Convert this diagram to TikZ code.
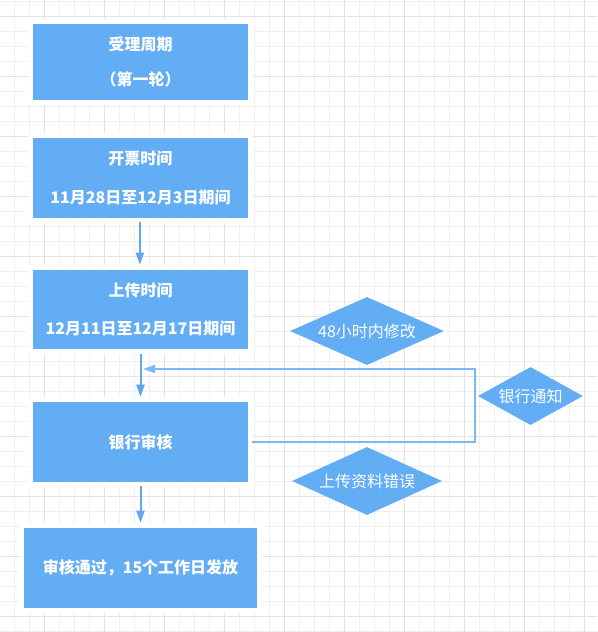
\documentclass[tikz,border=0pt]{standalone}
\usepackage{fontspec}
\newfontfamily\cjk{Noto Sans CJK SC}
\usetikzlibrary{shapes.geometric,arrows.meta}
\definecolor{boxblue}{HTML}{63ADF5}
\definecolor{arrowblue}{HTML}{5EA7EF}
\definecolor{fbblue}{HTML}{7DB8F2}
\definecolor{gridthin}{HTML}{EFEFEF}
\definecolor{gridthick}{HTML}{E3E3E3}
\tikzset{
  box/.style={fill=boxblue, draw=none, inner sep=0pt, text=white, align=center,
    font=\cjk\bfseries\fontsize{12}{15}\selectfont},
  halo/.style={fill=white, draw=none},
  decision/.style={diamond, fill=boxblue, draw=none, inner sep=0pt, text=white,
    font=\cjk\fontsize{12}{15}\selectfont},
  flow/.style={draw=arrowblue, line width=1.5pt, -{Triangle[length=9pt,width=6pt]}},
  feedback/.style={draw=fbblue, line width=1.1pt, -{Triangle[length=9pt,width=6pt]}},
}
\begin{document}
\begin{tikzpicture}[x=0.75pt,y=-0.75pt]
\useasboundingbox (0,0) rectangle (597,632);
\fill[white] (0,0) rectangle (597,632);
% grid
\begin{scope}
\clip (0,0) rectangle (597,632);
\foreach \k in {0,...,39} {
  \draw[gridthin, line width=0.75pt] ({14.5+15*\k},0) -- ({14.5+15*\k},632);
}
\foreach \k in {0,...,42} {
  \draw[gridthin, line width=0.75pt] (0,{1+15*\k}) -- (597,{1+15*\k});
}
\foreach \k in {0,...,9} {
  \draw[gridthick, line width=0.75pt] ({44.5+60*\k},0) -- ({44.5+60*\k},632);
}
\foreach \k in {0,...,10} {
  \draw[gridthick, line width=0.75pt] (0,{16+60*\k}) -- (597,{16+60*\k});
}
\end{scope}
% white halos behind boxes
\fill[halo] (28,19) rectangle (253,105);
\fill[halo] (28,133) rectangle (253,223);
\fill[halo] (28,265) rectangle (253,354);
\fill[halo] (28,397) rectangle (253,487);
\fill[halo] (19,523) rectangle (262,613);
% boxes
\node[box, minimum width=161.25pt, minimum height=57pt] (box1) at (140.5,62)
  {受理周期\\[11pt]（第一轮）};
\node[box, minimum width=161.25pt, minimum height=60pt] (box2) at (140.5,178)
  {开票时间\\[14pt]11月28日至12月3日期间};
\node[box, minimum width=161.25pt, minimum height=59.25pt] (box3) at (140.5,309.5)
  {上传时间\\[14pt]12月11日至12月17日期间};
\node[box, minimum width=161.25pt, minimum height=60pt] (box4) at (140.5,442)
  {银行审核};
\node[box, minimum width=174.75pt, minimum height=60pt] (box5) at (140.5,568)
  {审核通过，15个工作日发放};
% decisions
\node[decision, aspect=2.26, minimum width=115.5pt, minimum height=51pt] (d1) at (367,331) {48小时内修改};
\node[decision, aspect=1.81, minimum width=78.75pt, minimum height=43.5pt] (d2) at (530.5,396) {银行通知};
\node[decision, aspect=2.2, minimum width=112.5pt, minimum height=51pt] (d3) at (367,481) {上传资料错误};
% connectors
\draw[flow, shorten <=3pt, shorten >=3.75pt] ([xshift=-0.5pt]box2.south) -- ([xshift=-0.5pt]box3.north);
\draw[flow, shorten <=3.75pt, shorten >=3.75pt] (box3.south) -- (box4.north);
\draw[flow, shorten <=3pt, shorten >=3.75pt] (box4.south) -- (box5.north);
\coordinate (fbR) at (475,369);
\coordinate (fbEnd) at (143,369);
\draw[feedback] ([xshift=3pt]box4.east) -| (fbR) -- (fbEnd);
\end{tikzpicture}
\end{document}
